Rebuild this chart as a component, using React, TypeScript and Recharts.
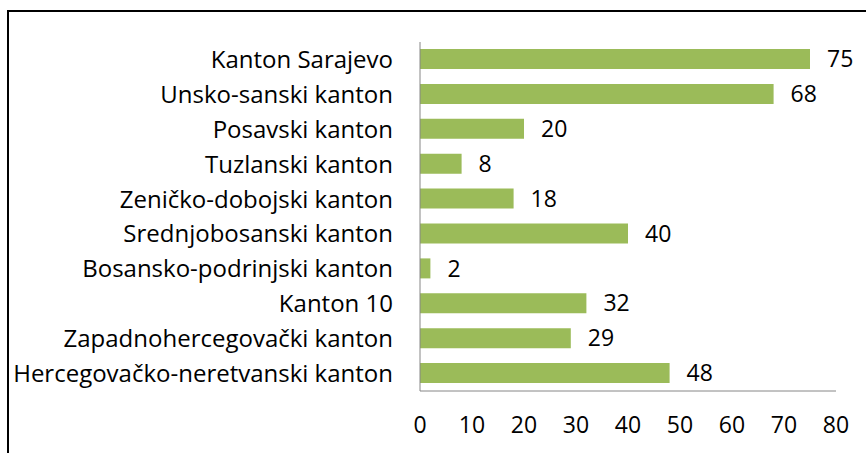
import { Bar, BarChart, LabelList, XAxis, YAxis } from "recharts";

const cantons = [
  "Kanton Sarajevo",
  "Unsko-sanski kanton",
  "Posavski kanton",
  "Tuzlanski kanton",
  "Zeničko-dobojski kanton",
  "Srednjobosanski kanton",
  "Bosansko-podrinjski kanton",
  "Kanton 10",
  "Zapadnohercegovački kanton",
  "Hercegovačko-neretvanski kanton",
];
const counts = [75, 68, 20, 8, 18, 40, 2, 32, 29, 48];
const xTicks = [0, 10, 20, 30, 40, 50, 60, 70, 80];

const FONT = "'Open Sans', Lato, sans-serif";
const CAT_TICK = { fill: "#000", fontSize: 24, fontFamily: FONT };
const NUM_TICK = { fill: "#000", fontSize: 23, fontFamily: FONT };

const data = cantons.map((name, i) => ({ name, value: counts[i] }));

export default function App() {
  return (
    <div style={{ position: "fixed", left: 0, top: 0, width: 866, height: 453, background: "#fff" }}>
      {/* okvir grafikona, desni i donji rub izlaze van slike */}
      <div
        style={{
          position: "absolute",
          left: 7,
          top: 10,
          width: 880,
          height: 470,
          border: "2px solid #000",
          boxSizing: "border-box",
        }}
      />
      <div style={{ position: "absolute", left: 0, top: 0 }}>
        <BarChart
          width={866}
          height={453}
          data={data}
          layout="vertical"
          margin={{ top: 42, right: 30, bottom: 0, left: 0 }}
        >
          <XAxis
            type="number"
            domain={[0, 80]}
            ticks={xTicks}
            interval={0}
            height={62}
            tick={NUM_TICK}
            tickLine={false}
            tickSize={0}
            tickMargin={26}
            axisLine={{ stroke: "#868686", strokeWidth: 1 }}
          />
          <YAxis
            type="category"
            dataKey="name"
            width={420}
            interval={0}
            tick={CAT_TICK}
            tickLine={false}
            tickSize={0}
            tickMargin={27}
            axisLine={{ stroke: "#868686", strokeWidth: 1 }}
          />
          <Bar dataKey="value" fill="#9BBB59" barSize={20} isAnimationActive={false}>
            <LabelList
              dataKey="value"
              position="right"
              offset={17}
              fill="#000"
              fontSize={23}
              fontFamily={FONT}
            />
          </Bar>
        </BarChart>
      </div>
    </div>
  );
}
